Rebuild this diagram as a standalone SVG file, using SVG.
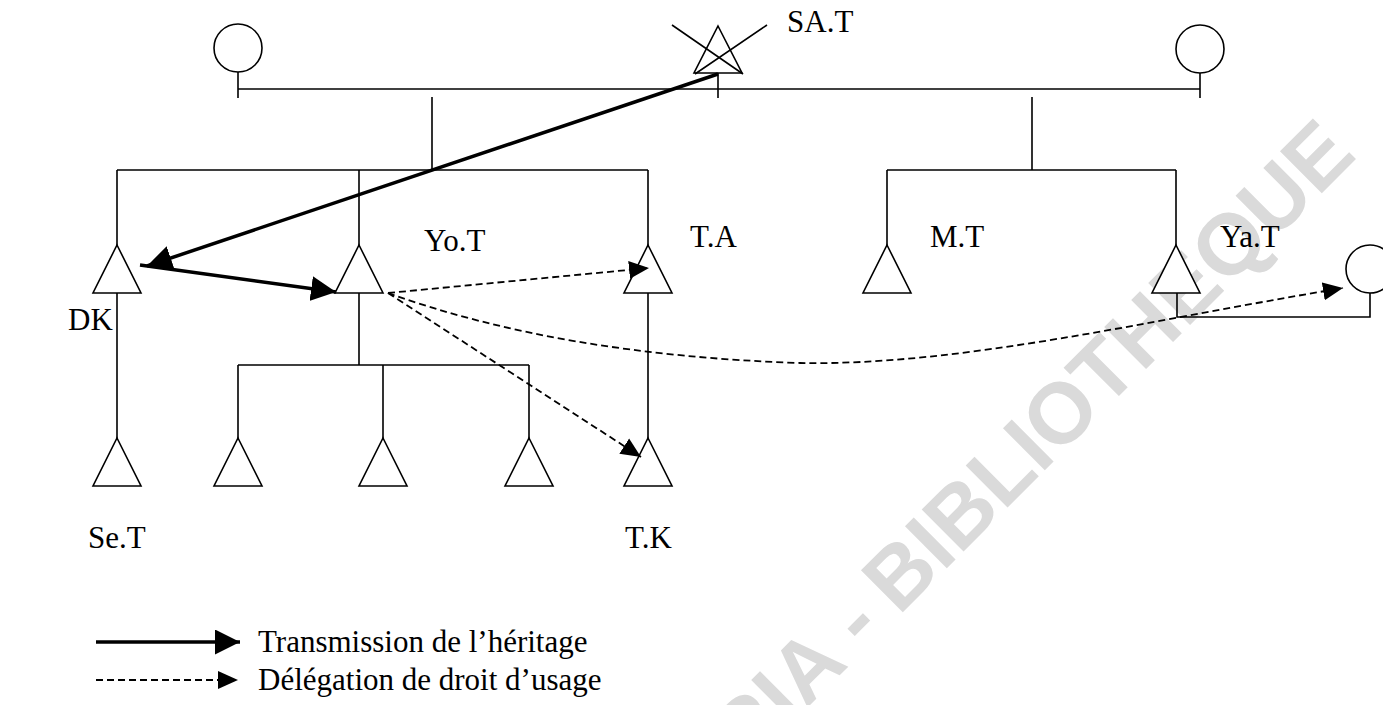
<svg xmlns="http://www.w3.org/2000/svg" width="1383" height="705" viewBox="0 0 1383 705">
<style>
.ln{stroke:#000;stroke-width:1.6;fill:none}
.sym{stroke:#000;stroke-width:1.6;fill:#fff}
.lbl{font-family:"Liberation Serif","Times New Roman",serif;font-size:31px;fill:#000}
.inh{stroke:#000;stroke-width:3.5;fill:none}
.del{stroke:#000;stroke-width:1.8;fill:none;stroke-dasharray:7 4}
.wm{font-family:"Liberation Sans",Arial,sans-serif;font-size:86px;font-weight:bold;fill:#dadada}
</style>
<defs>
<marker id="headInh" markerUnits="userSpaceOnUse" viewBox="0 0 24 24" markerWidth="25" markerHeight="25" refX="24" refY="12" orient="auto">
<path d="M0,0 L24,12 L0,24 z" fill="#000"/>
</marker>
<marker id="headDel" markerUnits="userSpaceOnUse" viewBox="0 0 20 20" markerWidth="20" markerHeight="20" refX="20" refY="10" orient="auto">
<path d="M0,1 L20,10 L0,19 z" fill="#000"/>
</marker>
</defs>
<rect width="1383" height="705" fill="#fff"/>

<!-- watermark -->
<g transform="translate(903,612) rotate(-45)">
<text class="wm"><tspan x="-2" text-anchor="end">CODESRIA - </tspan><tspan x="-6">BIBLIOTHEQUE</tspan></text>
</g>

<!-- kinship lines -->
<g id="kinship" class="ln">
<path d="M238,89 H1200"/>
<path d="M238,72 V98 M718,73 V98 M1200,73 V98"/>
<path d="M432,97 V170 M117,170 H648 M117,170 V245 M359,170 V245 M648,170 V245"/>
<path d="M1032,97 V170 M887,170 H1176 M887,170 V245 M1176,170 V245"/>
<path d="M117,293 V438 M648,293 V438"/>
<path d="M359,293 V365 M238,365 H529 M238,365 V438 M383,365 V438 M529,365 V438"/>
<path d="M1177,293 V317 H1370 V293"/>
</g>

<!-- first generation -->
<g id="n-mother1"><circle class="sym" cx="238" cy="48" r="24"/></g>
<g id="n-SAT">
<path class="sym" d="M718,26 L742,73 H694 Z"/>
<path class="ln" d="M672,25 L743,74 M767,25 L695,74"/>
<text class="lbl" x="787" y="32">SA.T</text>
</g>
<g id="n-mother2"><circle class="sym" cx="1200" cy="49" r="24"/></g>

<!-- second generation -->
<g id="n-DK"><path class="sym" d="M117,245 L141,293 H93 Z"/><text class="lbl" x="68" y="330">DK</text></g>
<g id="n-YoT"><path class="sym" d="M359,245 L383,293 H335 Z"/><text class="lbl" x="424" y="251">Yo.T</text></g>
<g id="n-TA"><path class="sym" d="M648,245 L672,293 H624 Z"/><text class="lbl" x="690" y="247">T.A</text></g>
<g id="n-MT"><path class="sym" d="M887,245 L911,293 H863 Z"/><text class="lbl" x="930" y="247">M.T</text></g>
<g id="n-YaT"><path class="sym" d="M1176,245 L1200,293 H1152 Z"/><text class="lbl" x="1220" y="247">Ya.T</text></g>
<g id="n-YaT-wife"><circle class="sym" cx="1370" cy="269" r="24"/></g>

<!-- third generation -->
<g id="n-SeT"><path class="sym" d="M117,438 L141,486 H93 Z"/><text class="lbl" x="88" y="548">Se.T</text></g>
<g id="n-c1"><path class="sym" d="M238,438 L262,486 H214 Z"/></g>
<g id="n-c2"><path class="sym" d="M383,438 L407,486 H359 Z"/></g>
<g id="n-c3"><path class="sym" d="M529,438 L553,486 H505 Z"/></g>
<g id="n-TK"><path class="sym" d="M648,438 L672,486 H624 Z"/><text class="lbl" x="625" y="548">T.K</text></g>

<!-- transfers -->
<g id="connectors">
<path class="inh" d="M718,74 L147,266" marker-end="url(#headInh)"/>
<path class="inh" d="M140,265 L336,292" marker-end="url(#headInh)"/>
<path class="del" d="M388,293 L649,268" marker-end="url(#headDel)"/>
<path class="del" d="M388,293 L641,457" marker-end="url(#headDel)"/>
<path class="del" d="M388,293 Q560,355 800,363 C960,366 1150,320 1343,288" marker-end="url(#headDel)"/>
</g>

<!-- legend -->
<g id="legend">
<path class="inh" d="M96,642 L240,642" marker-end="url(#headInh)"/>
<text class="lbl" x="258" y="652">Transmission de l’héritage</text>
<path class="del" d="M96,680 L238,680" marker-end="url(#headDel)"/>
<text class="lbl" x="258" y="690">Délégation de droit d’usage</text>
</g>
</svg>
